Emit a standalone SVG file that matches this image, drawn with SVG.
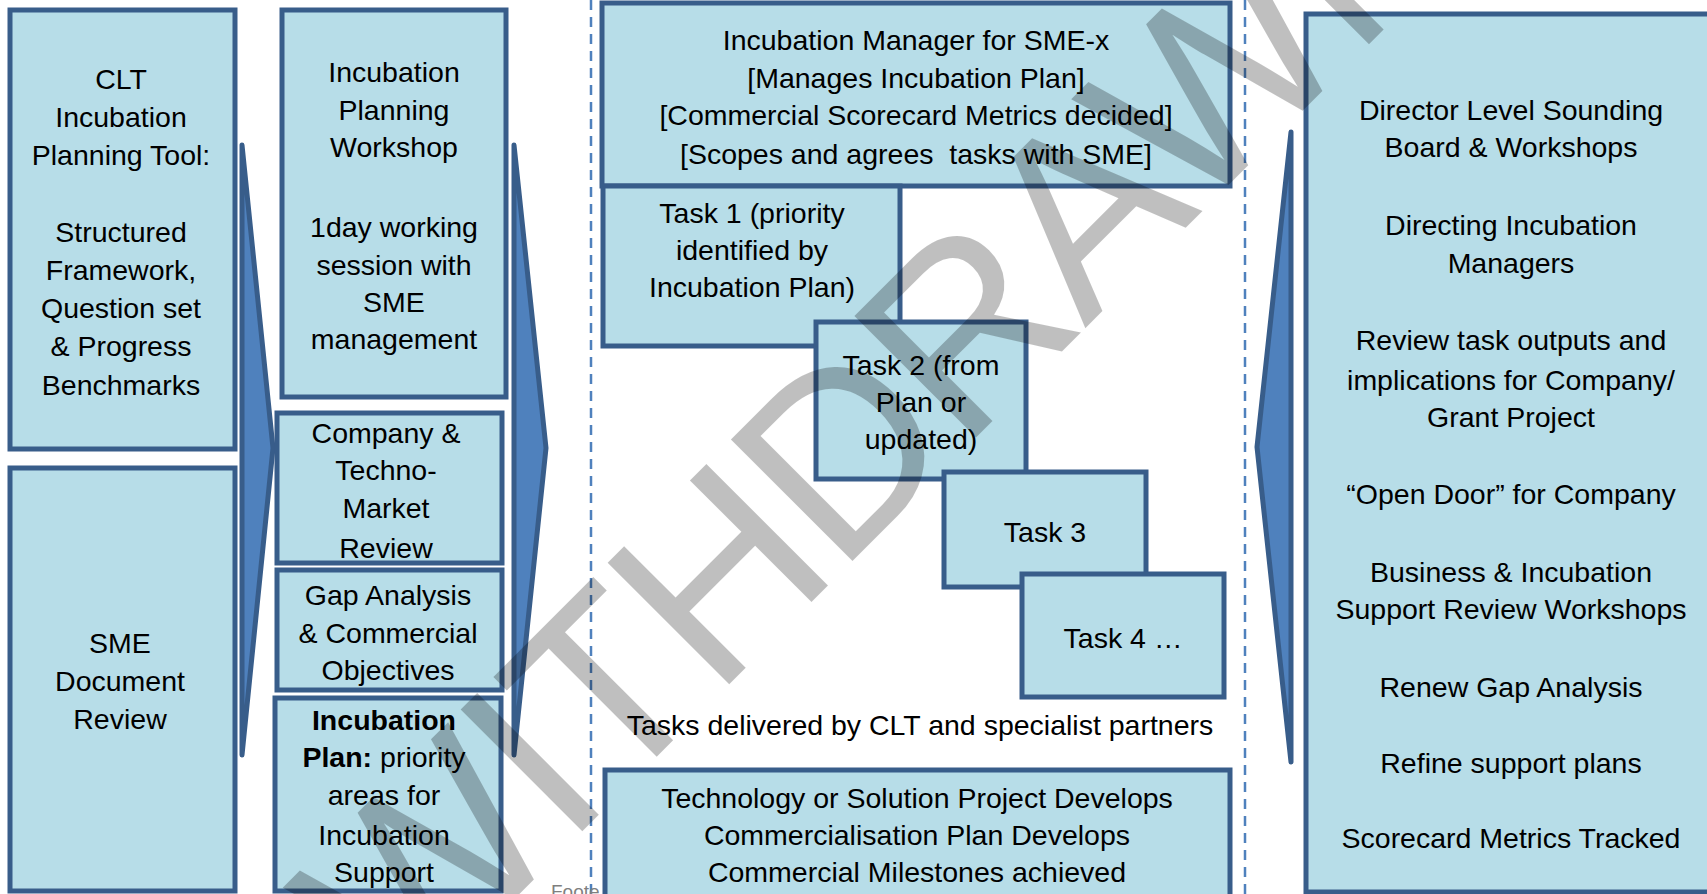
<svg xmlns="http://www.w3.org/2000/svg" width="1707" height="894" viewBox="0 0 1707 894">
<style>
.box{fill:#b7dde8;stroke:#385d8a;stroke-width:5}
.arr{fill:#4f81bd;stroke:#385d8a;stroke-width:5;stroke-linejoin:round}
.dash{stroke:#4f81bd;stroke-width:2.5;stroke-dasharray:10 7;fill:none}
text{font-family:"Liberation Sans",Arial,sans-serif;font-size:28.5px;fill:#000;text-anchor:middle}
.b{font-weight:bold}
.wm{font-size:250px;fill:#000;fill-opacity:0.25;text-anchor:start;letter-spacing:-6px}
.foot{font-size:19px;fill:#7f7f7f;text-anchor:start}
</style>
<rect width="1707" height="894" fill="#fff"/>
<g id="connectors">
<line class="dash" x1="591" y1="0" x2="591" y2="894"/>
<line class="dash" x1="1245" y1="0" x2="1245" y2="894"/>
<polygon class="arr" points="242,145 273,448 242,755"/>
<polygon class="arr" points="514,145 546,448 514,755"/>
<polygon class="arr" points="1291,132 1257,447 1291,762"/>
</g>
<text class="foot" x="551" y="898">Foote</text>
<g id="clt-tool">
<rect class="box" x="10" y="10" width="225" height="439"/>
<text x="121" y="89">CLT</text>
<text x="121" y="127">Incubation</text>
<text x="121" y="165">Planning Tool:</text>
<text x="121" y="242">Structured</text>
<text x="121" y="280">Framework,</text>
<text x="121" y="318">Question set</text>
<text x="121" y="356">&amp; Progress</text>
<text x="121" y="395">Benchmarks</text>
</g>
<g id="sme-doc">
<rect class="box" x="10" y="468" width="225" height="423"/>
<text x="120" y="653">SME</text>
<text x="120" y="691">Document</text>
<text x="120" y="729">Review</text>
</g>
<g id="workshop">
<rect class="box" x="282" y="10" width="224" height="387"/>
<text x="394" y="82">Incubation</text>
<text x="394" y="120">Planning</text>
<text x="394" y="157">Workshop</text>
<text x="394" y="237">1day working</text>
<text x="394" y="275">session with</text>
<text x="394" y="312">SME</text>
<text x="394" y="349">management</text>
</g>
<g id="market-review">
<rect class="box" x="277" y="413" width="225" height="150"/>
<text x="386" y="443">Company &amp;</text>
<text x="386" y="480">Techno-</text>
<text x="386" y="518">Market</text>
<text x="386" y="558">Review</text>
</g>
<g id="gap-analysis">
<rect class="box" x="277" y="570" width="225" height="120"/>
<text x="388" y="605">Gap Analysis</text>
<text x="388" y="643">&amp; Commercial</text>
<text x="388" y="680">Objectives</text>
</g>
<g id="incubation-plan">
<rect class="box" x="275" y="698" width="226" height="193"/>
<text x="384" y="730" class="b">Incubation</text>
<text x="384" y="767"><tspan class="b">Plan:</tspan> priority</text>
<text x="384" y="805">areas for</text>
<text x="384" y="845">Incubation</text>
<text x="384" y="882">Support</text>
</g>
<g id="manager">
<rect class="box" x="602" y="3" width="628" height="183"/>
<text x="916" y="50">Incubation Manager for SME-x</text>
<text x="916" y="88">[Manages Incubation Plan]</text>
<text x="916" y="125">[Commercial Scorecard Metrics decided]</text>
<text x="916" y="164">[Scopes and agrees &#160;tasks with SME]</text>
</g>
<g id="task1">
<rect class="box" x="603" y="186" width="297" height="160"/>
<text x="752" y="223">Task 1 (priority</text>
<text x="752" y="260">identified by</text>
<text x="752" y="297">Incubation Plan)</text>
</g>
<g id="task2">
<rect class="box" x="816" y="322" width="210" height="157"/>
<text x="921" y="375">Task 2 (from</text>
<text x="921" y="412">Plan or</text>
<text x="921" y="449">updated)</text>
</g>
<g id="task3">
<rect class="box" x="944" y="472" width="202" height="115"/>
<text x="1045" y="542">Task 3</text>
</g>
<g id="task4">
<rect class="box" x="1022" y="574" width="202" height="123"/>
<text x="1123" y="648">Task 4 …</text>
</g>
<g id="tasks-label">
<text x="920" y="735">Tasks delivered by CLT and specialist partners</text>
</g>
<g id="project">
<rect class="box" x="605" y="770" width="625" height="135"/>
<text x="917" y="808">Technology or Solution Project Develops</text>
<text x="917" y="845">Commercialisation Plan Develops</text>
<text x="917" y="882">Commercial Milestones achieved</text>
</g>
<g id="director-board">
<rect class="box" x="1306" y="14" width="420" height="878"/>
<text x="1511" y="120">Director Level Sounding</text>
<text x="1511" y="157">Board &amp; Workshops</text>
<text x="1511" y="235">Directing Incubation</text>
<text x="1511" y="273">Managers</text>
<text x="1511" y="350">Review task outputs and</text>
<text x="1511" y="390">implications for Company/</text>
<text x="1511" y="427">Grant Project</text>
<text x="1511" y="504">“Open Door” for Company</text>
<text x="1511" y="582">Business &amp; Incubation</text>
<text x="1511" y="619">Support Review Workshops</text>
<text x="1511" y="697">Renew Gap Analysis</text>
<text x="1511" y="773">Refine support plans</text>
<text x="1511" y="848">Scorecard Metrics Tracked</text>
</g>
<text class="wm" x="170" y="441.5" transform="rotate(-45 973 444)">WITHDRAWN</text>
</svg>
